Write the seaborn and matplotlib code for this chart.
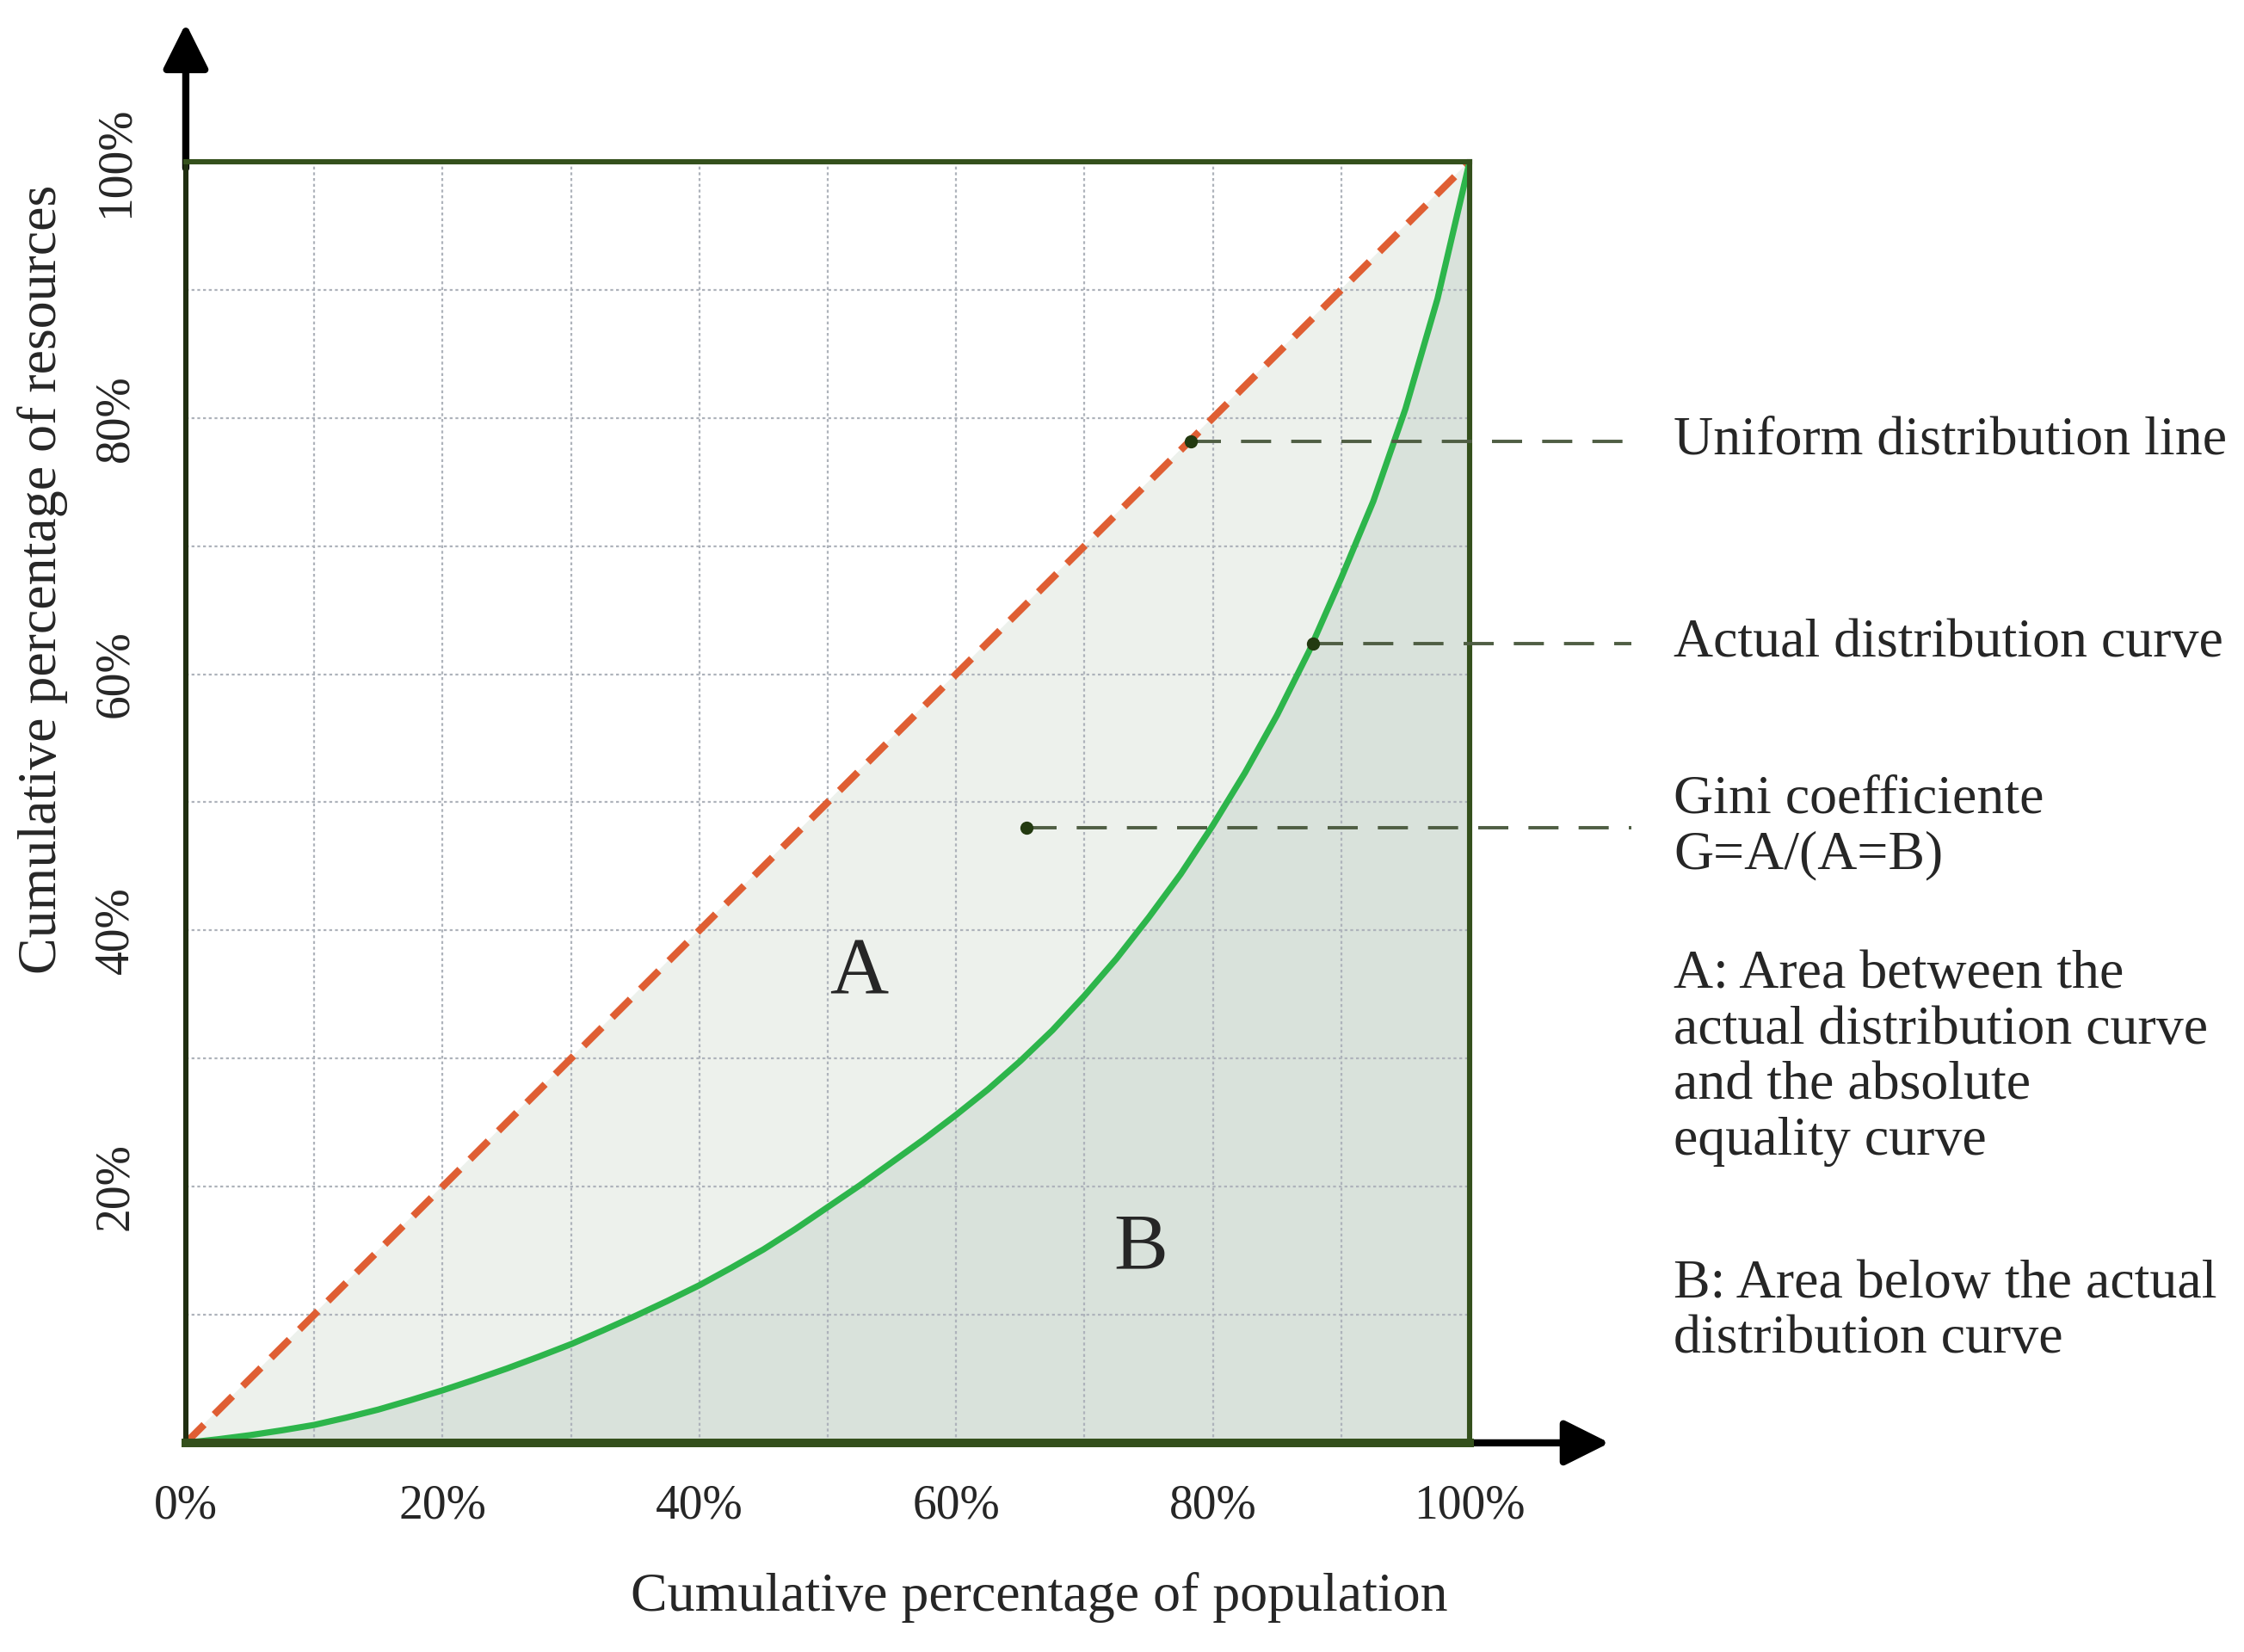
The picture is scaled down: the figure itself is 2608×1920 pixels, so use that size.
import numpy as np
import pandas as pd
import matplotlib.pyplot as plt
import seaborn as sns

# Lorenz curve (cumulative % population -> cumulative % resources)
population_pct = [0, 2.5, 5, 7.5, 10, 12.5, 15, 17.5, 20, 22.5, 25, 27.5, 30, 32.5, 35, 37.5,
                  40, 42.5, 45, 47.5, 50, 52.5, 55, 57.5, 60, 62.5, 65, 67.5, 70, 72.5, 75,
                  77.5, 80, 82.5, 85, 87.5, 90, 92.5, 95, 97.5, 100]
resources_pct = [0, 0.28, 0.6, 0.98, 1.4, 1.97, 2.6, 3.33, 4.1, 4.93, 5.8, 6.73, 7.7, 8.78, 9.9, 11.07,
                 12.3, 13.67, 15.1, 16.7, 18.4, 20.1, 21.9, 23.7, 25.6, 27.6, 29.8, 32.2, 34.9, 37.8, 41.0,
                 44.4, 48.2, 52.3, 56.8, 61.8, 67.5, 73.5, 80.7, 89.3, 100]
equality_pct = [0, 100]

x_ticks = [0, 20, 40, 60, 80, 100]
x_tick_labels = ["0%", "20%", "40%", "60%", "80%", "100%"]
y_ticks = [20, 40, 60, 80, 100]
y_tick_labels = ["20%", "40%", "60%", "80%", "100%"]

# annotation anchors (x, y) in data units and their texts
note_points_x = [78.3, 87.8, 65.5]
note_points_y = [78.2, 62.4, 48.0]
note_texts = ["Uniform distribution line", "Actual distribution curve", "Gini coefficiente\nG=A/(A=B)"]
extra_texts = ["A: Area between the\nactual distribution curve\nand the absolute\nequality curve",
               "B: Area below the actual\ndistribution curve"]
extra_y = [30.0, 10.2]

lorenz_df = pd.DataFrame({"population": population_pct, "resources": resources_pct})
equal_df = pd.DataFrame({"population": equality_pct, "resources": equality_pct})

sns.set_style("white")
plt.rcParams["font.family"] = ["Liberation Serif", "DejaVu Serif"]

fig = plt.figure(figsize=(13.04, 9.6), dpi=200)
ax = fig.add_axes([0.0828, 0.1266, 0.5721, 0.7755])

# shaded areas A and B
ax.fill_between(equality_pct, equality_pct, 0, color="#EDF1EC", zorder=0)
ax.fill_between(population_pct, resources_pct, 0, color="#D9E2DB", zorder=0)

# grid every 10%
ax.set_xticks(range(0, 101, 10), minor=True)
ax.set_yticks(range(0, 101, 10), minor=True)
ax.grid(True, which="both", linestyle=(0, (1.5, 1.5)), color="#AEB3BB", linewidth=0.8, zorder=1)
ax.set_axisbelow(True)

sns.lineplot(data=equal_df, x="population", y="resources", ax=ax, color="#DF5E33",
             linewidth=3.0, dashes=False, zorder=3)
ax.lines[-1].set_dashes((3.6, 2.0))
sns.lineplot(data=lorenz_df, x="population", y="resources", ax=ax, color="#2DB54B",
             linewidth=2.6, zorder=4)

ax.set_xlim(0, 100)
ax.set_ylim(0, 100)

for side in ["left", "right", "top", "bottom"]:
    ax.spines[side].set_visible(True)
    ax.spines[side].set_color("#34501C")
    ax.spines[side].set_linewidth(2.2)
    ax.spines[side].set_zorder(5)
ax.spines["bottom"].set_linewidth(3.6)
ax.spines["left"].set_color("#1F2E10")

# axis arrows
arrow = dict(arrowstyle="-|>", lw=3.0, color="black", mutation_scale=40, shrinkA=0, shrinkB=0)
ax.annotate("", xy=(0, 110.8), xytext=(0, 99.5), arrowprops=arrow, annotation_clip=False)
ax.annotate("", xy=(110.9, 0), xytext=(99.5, 0), arrowprops=arrow, annotation_clip=False)

ax.set_xticks(x_ticks)
ax.set_xticklabels(x_tick_labels, fontsize=20)
ax.set_yticks(y_ticks)
ax.set_yticklabels(y_tick_labels, fontsize=20, rotation=90, va="center")
ax.tick_params(axis="both", which="both", length=0)
ax.tick_params(axis="x", pad=17)
ax.tick_params(axis="y", pad=20)

ax.set_xlabel("Cumulative percentage of population", fontsize=23)
ax.set_ylabel("Cumulative percentage of resources", fontsize=23)
ax.xaxis.set_label_coords(0.665, -0.101)
ax.yaxis.set_label_coords(-0.092, 0.674)

ax.text(52.4, 36.6, "A", fontsize=34, ha="center", va="center", zorder=6)
ax.text(74.4, 15.1, "B", fontsize=34, ha="center", va="center", zorder=6)

# leader lines + labels
for px, py, txt in zip(note_points_x, note_points_y, note_texts):
    ax.plot([px, 112.6], [py, py], color="#4F5E43", linewidth=1.4,
            linestyle=(0, (9, 6)), clip_on=False, zorder=6)
    ax.plot(px, py, "o", color="#233A10", markersize=4.5, clip_on=False, zorder=7)
    ax.text(115.9, py, txt, fontsize=23, ha="left", va="center", linespacing=1.15)

for txt, ty in zip(extra_texts, extra_y):
    ax.text(115.9, ty, txt, fontsize=23, ha="left", va="center", linespacing=1.15)

fig.savefig("out.png", dpi=200)
